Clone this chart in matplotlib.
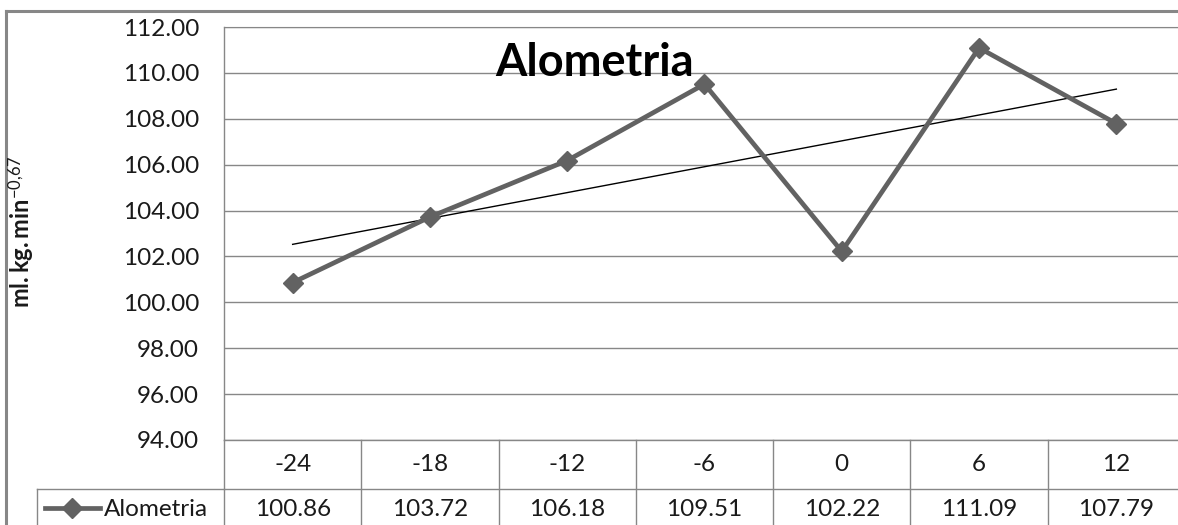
import matplotlib
matplotlib.use("Agg")
import matplotlib.pyplot as plt
import numpy as np
from matplotlib.lines import Line2D
import matplotlib.transforms as mtransforms

plt.rcParams['font.family'] = ['Lato', 'DejaVu Sans']
plt.rcParams['mathtext.fontset'] = 'custom'
plt.rcParams['mathtext.rm'] = 'Lato'
plt.rcParams['mathtext.it'] = 'Lato'
plt.rcParams['mathtext.bf'] = 'Lato:bold'

# minutes relative to the event, and the allometric VO2 values
tempo = ['-24', '-18', '-12', '-6', '0', '6', '12']
alometria = [100.86, 103.72, 106.18, 109.51, 102.22, 111.09, 107.79]
y_ticks = [94, 96, 98, 100, 102, 104, 106, 108, 110, 112]

W, H = 1178, 525
grid_c = '#878787'
line_c = '#626262'
txt_c = '#1a1a1a'
fs = 17.5

fig = plt.figure(figsize=(W / 100, H / 100), dpi=100)

def fx(px):
    return px / W

def fy(py):
    return 1 - py / H

# plot area (runs a little past the right edge like the original sheet)
ax = fig.add_axes([fx(224), fy(440), fx(961), 413 / H])
x = np.arange(len(alometria))
ax.plot(x, alometria, color=line_c, lw=3.4, marker='D', ms=10.5, mfc=line_c, mec=line_c, zorder=3)

# linear trend line
a = np.polyfit(x, alometria, 1)
ax.plot(x, np.polyval(a, x), color='black', lw=1.0, zorder=2)

ax.set_xlim(-0.5, len(alometria) - 0.5)
ax.set_ylim(94, 112)
ax.set_yticks(y_ticks)
ax.set_yticklabels(['%.2f' % v for v in y_ticks])
ax.set_xticks([])
ax.tick_params(axis='y', length=0, pad=18, labelsize=fs, labelcolor=txt_c)
ax.grid(axis='y', color=grid_c, lw=1.0)
for s in ['right', 'bottom']:
    ax.spines[s].set_visible(False)
ax.spines['top'].set_color(grid_c)
ax.spines['left'].set_color(grid_c)
ax.spines['left'].set_linewidth(1.0)

fig.text(fx(22), fy(232), r'$\mathbf{ml{.}kg{.}min}^{\mathrm{-0{,}67}}$', rotation=90,
         ha='center', va='center', fontsize=17, color=txt_c)

# data table under the axis
tr = mtransforms.blended_transform_factory(ax.transData, ax.transAxes)
row_h = 49 / 413
ax.plot([-0.5, 6.5], [0, 0], color=grid_c, lw=1.0, transform=tr, clip_on=False)
ax.plot([-0.5, 6.5], [-row_h, -row_h], color=grid_c, lw=1.0, transform=tr, clip_on=False)
ax.plot([-0.5, -0.5], [0, -0.4], color=grid_c, lw=1.0, transform=tr, clip_on=False)
for i in range(len(tempo) - 1):
    ax.plot([i + 0.5, i + 0.5], [0, -0.4], color=grid_c, lw=1.0, transform=tr, clip_on=False)
for i in range(len(tempo)):
    ax.text(i, -row_h / 2, tempo[i], transform=tr, ha='center', va='center',
            fontsize=fs, color=txt_c)
    ax.text(i, -row_h * 1.42, '%.2f' % alometria[i], transform=tr, ha='center', va='center',
            fontsize=fs, color=txt_c)

# legend cell on the left of the value row
fig.add_artist(Line2D([fx(37), fx(224)], [fy(489), fy(489)], color=grid_c, lw=1.0))
fig.add_artist(Line2D([fx(37), fx(37)], [fy(489), 0], color=grid_c, lw=1.0))
fig.add_artist(Line2D([fx(45), fx(100)], [fy(508), fy(508)], color=line_c, lw=3.4))
fig.add_artist(Line2D([fx(72)], [fy(508)], color=line_c, marker='D', ms=10.5, lw=0))
fig.text(fx(104), fy(509), 'Alometria', ha='left', va='center', fontsize=fs, color=txt_c)

# chart frame
fig.add_artist(Line2D([fx(6), 1], [fy(11), fy(11)], color=grid_c, lw=2.2))
fig.add_artist(Line2D([fx(6), fx(6)], [fy(11), 0], color=grid_c, lw=2.2))

fig.text(fx(595), fy(63), 'Alometria', ha='center', va='center', fontsize=32.5,
         fontweight='bold', color='black')

fig.savefig('out.png', dpi=100)
